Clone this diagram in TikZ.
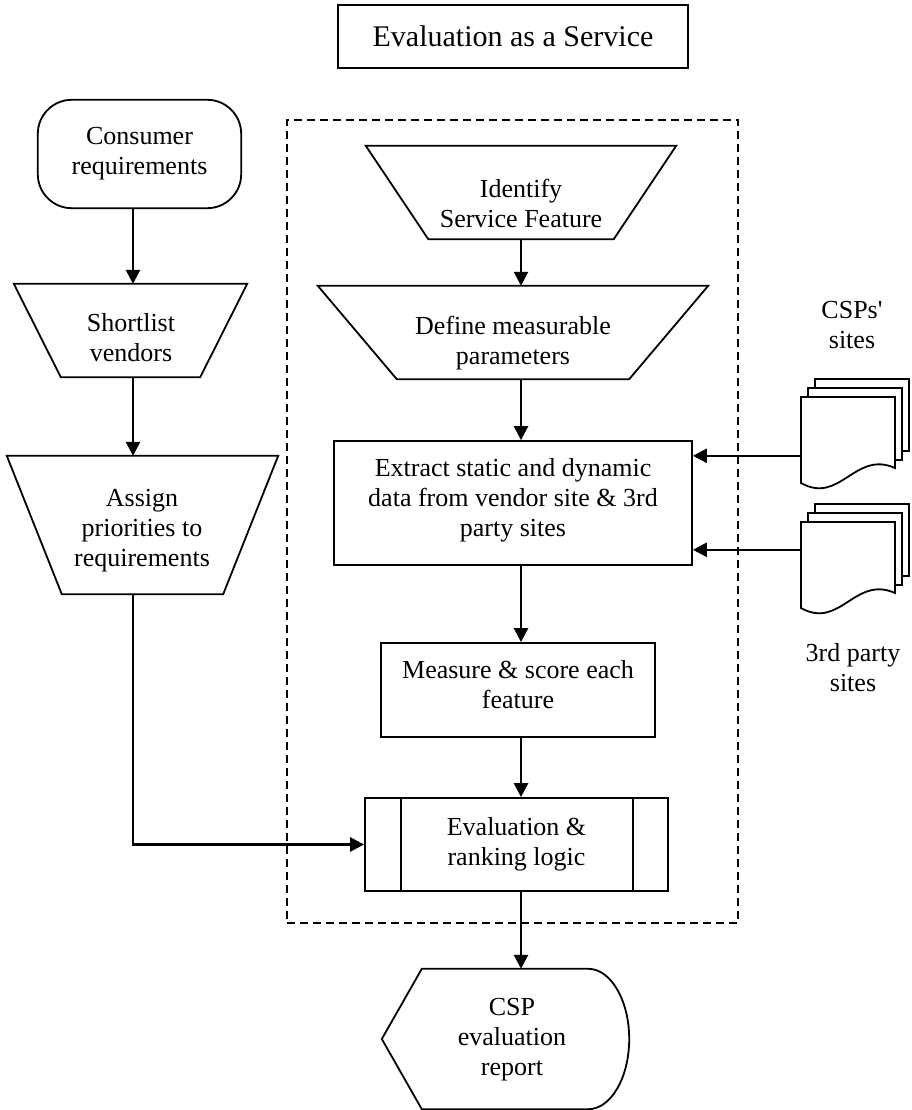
\documentclass[tikz,border=0pt]{standalone}
\usepackage{fontspec}
\setmainfont{Liberation Serif}
\usetikzlibrary{arrows.meta,calc}
\newcommand{\invtrap}[2]{\draw[outline] (#1.north west) -- (#1.north east) -- ($(#1.south east)+(-#2,0)$) -- ($(#1.south west)+(#2,0)$) -- cycle;}
\tikzset{
  txt/.style={font=\fontsize{26}{30}\selectfont, align=center, inner sep=0pt},
  shapebox/.style 2 args={txt, minimum width=#1, minimum height=#2},
  outline/.style={line width=1.8pt, line join=miter},
  arr/.style={line width=2.6pt, -{Triangle[length=14pt,width=14pt]}},
  dashbox/.style={line width=1.4pt, dash pattern=on 8pt off 5pt},
  docstack/.pic={
    \draw[outline, fill=white] (14,-18) rectangle (108,54);
    \draw[outline, fill=white] (7,-9) rectangle (101,63);
    \node[minimum width=94pt, minimum height=86pt, inner sep=0pt] (-front) at (47,43) {};
    \draw[outline, fill=white] (0,0) -- (94,0) -- (94,71) .. controls (54,53) and (39,108) .. (0,86) -- cycle;
  }
}
\begin{document}
\begin{tikzpicture}[x=1pt,y=-1pt]
\useasboundingbox (0,0) rectangle (911,1110);
% service frame
\node[dashbox, draw, minimum width=451pt, minimum height=803pt] (eaas) at (512.5,521.5) {};
% title
\node[draw, outline, minimum width=350pt, minimum height=63pt, font=\fontsize{30}{34}\selectfont] (title) at (513,36.5) {Evaluation as a Service};
% left column
\node[shapebox={203pt}{108pt}] (cons) at (139.5,154) {Consumer\\requirements};
\draw[outline, rounded corners=34pt] (cons.north west) rectangle (cons.south east);
\node[shapebox={233pt}{93pt}] (sv) at (130.5,330.5) {};
\node[txt] (svlbl) at (131,338) {Shortlist\\vendors};
\invtrap{sv}{47}
\node[shapebox={271pt}{138pt}] (ap) at (142.5,525) {};
\node[txt] (aplbl) at (142,531) {Assign\\priorities to\\requirements};
\invtrap{ap}{55}
% middle column
\node[shapebox={310pt}{93pt}] (idf) at (521,192.5) {};
\node[txt] (idflbl) at (521,203) {Identify\\Service Feature};
\invtrap{idf}{62.5}
\node[shapebox={390pt}{93pt}] (def) at (513,332.5) {};
\node[txt] (deflbl) at (513,343) {Define measurable\\parameters};
\invtrap{def}{79}
\node[shapebox={358pt}{124pt}, draw, outline] (ext) at (513,503) {};
\node[txt] (extlbl) at (513,500) {Extract static and dynamic\\data from vendor site \& 3rd\\party sites};
\node[shapebox={274pt}{94pt}, draw, outline] (meas) at (518,690) {};
\node[txt] (measlbl) at (518,685) {Measure \& score each\\feature};
\node[shapebox={303pt}{93pt}, draw, outline] (evl) at (516.5,844.5) {Evaluation \&\\ranking logic};
\draw[outline] ($(evl.north west)+(37,0)$) -- ($(evl.south west)+(37,0)$);
\draw[outline] ($(evl.north east)+(-36,0)$) -- ($(evl.south east)+(-36,0)$);
\node[shapebox={247pt}{140pt}] (rep) at (505.5,1039) {};
\node[txt] (replbl) at (512,1040) {CSP\\evaluation\\report};
\draw[outline] (rep.west) -- ($(rep.north west)+(40,0)$) -- ($(rep.north east)+(-41,0)$)
  .. controls ($(rep.north east)+(-18.4,0)$) and ($(rep.east)+(0,-38.7)$) .. (rep.east)
  .. controls ($(rep.east)+(0,38.7)$) and ($(rep.south east)+(-18.4,0)$) .. ($(rep.south east)+(-41,0)$)
  -- ($(rep.south west)+(40,0)$) -- cycle;
% document stacks
\pic (csp) at (801,397) {docstack};
\pic (tps) at (801,522) {docstack};
\node[txt] (csplbl) at (852,325.5) {CSPs\textquotesingle\\sites};
\node[txt] (tpslbl) at (853,668) {3rd party\\sites};
% connectors
\coordinate (lx) at (133,0);
\coordinate (mx) at (521,0);
\draw[arr] (cons.south -| lx) -- (sv.north -| lx);
\draw[arr] (sv.south -| lx) -- (ap.north -| lx);
\draw[arr] (ap.south -| lx) |- (evl.west);
\draw[arr] (idf.south -| mx) -- (def.north -| mx);
\draw[arr] (def.south -| mx) -- (ext.north -| mx);
\draw[arr] (ext.south -| mx) -- (meas.north -| mx);
\draw[arr] (meas.south -| mx) -- (evl.north -| mx);
\draw[arr] (evl.south -| mx) -- (rep.north -| mx);
\coordinate (in1) at ($(csp-front.north west)+(0,59)$);
\coordinate (in2) at ($(tps-front.north west)+(0,28)$);
\draw[arr] (in1) -- (in1 -| ext.east);
\draw[arr] (in2) -- (in2 -| ext.east);
\end{tikzpicture}
\end{document}
